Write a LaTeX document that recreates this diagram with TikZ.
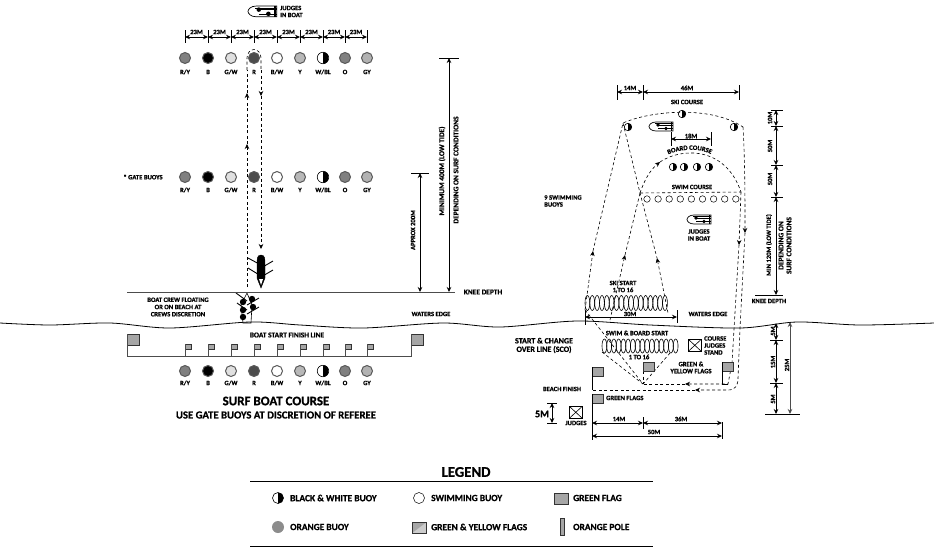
\documentclass[tikz,border=0pt]{standalone}
\usepackage{fontspec}
\setmainfont{Carlito}[BoldFeatures={FakeBold=0.8}]
\usetikzlibrary{arrows.meta,calc,decorations.text}
\newcommand{\smallfont}{\bfseries\fontsize{6.6}{7}\selectfont}
\newcommand{\widefont}{\bfseries\fontsize{7.4}{8}\selectfont}
\newcommand{\legendfont}{\bfseries\fontsize{9.4}{10}\selectfont}
\tikzset{
  lbl/.style={font=\smallfont, inner sep=0pt, align=center},
  lblr/.style={lbl, rotate=90},
  lblleft/.style={lbl, anchor=west, align=left},
  lgtext/.style={lblleft, font=\legendfont},
  buoy/.style={circle, draw=black!65, line width=1pt, minimum size=11pt, inner sep=0pt},
  halfbuoy/.style={circle, draw=black, fill=white, line width=0.6pt, inner sep=0pt,
    path picture={\fill[black] (path picture bounding box.north) rectangle (path picture bounding box.south east);}},
  swimbuoy/.style={circle, draw=black, fill=white, line width=0.5pt, minimum size=6.5pt, inner sep=0pt},
  flagbox/.style={rectangle, draw=black!80, fill=black!35, line width=0.8pt, inner sep=0pt, anchor=north west},
  xbox/.style={rectangle, draw=black, line width=0.6pt, inner sep=0pt, anchor=north west,
    path picture={\draw (path picture bounding box.north west) -- (path picture bounding box.south east)
      (path picture bounding box.north east) -- (path picture bounding box.south west);}},
  dim/.style={<->, line width=0.8pt},
  tick/.style={line width=0.7pt},
  route/.style={line width=0.6pt, dash pattern=on 3pt off 2.5pt},
  oar/.style={line width=0.9pt},
  judgeboat/.pic={
    \draw[line width=0.7pt, fill=white] (24,0) -- (7,0) .. controls (2,0) and (0,3) .. (0,4.5)
      .. controls (0,6) and (2,9) .. (7,9) -- (24,9) -- cycle;
    \draw[line width=0.6pt] (6,1.5) -- (24,1.5) (9,3) -- (24,3) (9,6.5) -- (24,6.5);
    \draw[line width=1.2pt] (22.5,0) -- (22.5,9);
    \fill (9,3) circle (1.9) (17,6.5) circle (1.9);
  }
}
\begin{document}
\begin{tikzpicture}[x=1pt, y=-1pt, >={Stealth[length=5pt,width=4.5pt]}]
\useasboundingbox (0,0) rectangle (934,547);

% judges boat, far buoys
\pic[scale=1.2] at (248,6) {judgeboat};
\node[lblleft] (judgesA) at (280,11.5) {JUDGES\\IN BOAT};

% spacing of the gates
\foreach \x/\n in {185/0,208/1,231/2,254/3,277/4,300/5,323/6,345/7,367/8}{
  \coordinate (gt\n) at (\x,30);
  \coordinate (gb\n) at (\x,43);
  \coordinate (gm\n) at (\x,37);
  \draw[tick] (gt\n) -- (gb\n);
}
\foreach \a/\b in {0/1,1/2,2/3,3/4,4/5,5/6,6/7,7/8}{
  \draw[dim] (gm\a) -- (gm\b);
  \node[lbl] at ($(gm\a)!0.5!(gm\b)+(0,-5)$) {23M};
}

% three rows of gate buoys
\foreach \y/\r/\yy in {58/a/72,177/b/190,371/c/383}{
  \foreach \x/\lab/\col in {185/R\slash Y/black!50,208/B/black,231/G\slash W/black!12,254/R/black!70,277/B\slash W/white,300/Y/black!28,345/O/black!50,367/GY/black!30}{
    \node[buoy, fill=\col] (buoy\r\x) at (\x,\y) {};
    \node[lbl] at (\x,\yy) {\lab};
  }
  \node[halfbuoy, minimum size=11.5pt] (buoy\r323) at (323,\y) {};
  \node[lbl] at (323,\yy) {W\slash BL};
}
\node[lbl] (gatebuoys) at (143,177) {* GATE BUOYS};

% boat route
\coordinate (upS) at (247,287);
\coordinate (upA) at (247,144);
\coordinate (upB) at (247,93);
\coordinate (upE) at (247,70);
\coordinate (dnS) at (261,70);
\coordinate (dnA) at (261,96);
\coordinate (dnE) at (261,249);
\draw[route, ->] (upS) -- (upA);
\draw[route, ->] (upA) -- (upB);
\draw[route] (upB) -- (upE);
\draw[route, ->] (dnS) -- (dnA);
\draw[route, ->] (dnA) -- (dnE);
\draw[route] (upE) -- (247,58) arc (180:360:7 and 8.5) -- (dnS);

% boat on its way in
\draw[oar] (248,258) -- (261,265) (273,261) -- (261,268) (248,268) -- (261,276) (273,270) -- (261,277);
\draw[fill=black] (261,255) .. controls (257,255) and (257,259) .. (257,264) -- (257,278) -- (261,288) -- (265,278) -- (265,264) .. controls (265,259) and (265,255) .. (261,255);
\fill[white] (259,279) -- (263,279) -- (261,285) -- cycle;

% crew floating
\draw[line width=0.6pt, fill=white] (247,293) -- (252,305) -- (251,323) -- (243,323) -- (241,305) -- cycle;
\draw[oar] (236,293) -- (247,301) (259,298) -- (247,305) (237,303) -- (247,310) (259,307) -- (247,314);
\fill (252,299) circle (3.2) (243,302) circle (3.2) (253,307) circle (3.2) (243,310) circle (3.2) (243,317) circle (3.2);

% shore and knee depth
\coordinate (kneeL) at (127,292);
\coordinate (kneeR) at (455,292);
\draw[line width=1pt, black!70] (kneeL) -- (kneeR);
\node[lbl, font=\widefont] (knee) at (483,292) {KNEE DEPTH};
\draw[line width=0.8pt] plot[smooth] coordinates {(0,323) (50,325) (110,323) (170,328) (250,322) (300,325) (363,328) (443,323) (500,327) (577,321) (650,325) (740,328) (797,322) (860,325) (934,323)};
\node[lbl] (crew) at (178,307) {BOAT CREW FLOATING\\[0.2pt]OR ON BEACH AT\\[0.2pt]CREWS DISCRETION};
\node[lbl] (edgeA) at (431,314) {WATERS EDGE};
\node[lbl, font=\widefont] (startline) at (287,335) {BOAT START FINISH LINE};

% start line and flags
\node[flagbox, minimum width=12pt, minimum height=11pt] (flagL) at (127,334) {};
\node[flagbox, minimum width=12pt, minimum height=11pt] (flagR) at (411,334) {};
\coordinate (lineL) at (127,356);
\coordinate (lineR) at (411,356);
\draw[line width=1pt, black!70] (flagL.north west) -- (lineL) -- (lineR) -- (flagR.north west);
\foreach \x in {185,208,231,254,277,300,323,345,367}{
  \node[flagbox, line width=0.6pt, minimum width=5.5pt, minimum height=5pt] (fl\x) at (\x,344) {};
  \draw[line width=0.6pt, black!70] (fl\x.north west) -- (\x,356);
}

% depth marks
\coordinate (dA) at (420,173);
\coordinate (dB) at (420,292);
\coordinate (dC) at (449,58);
\coordinate (dD) at (449,292);
\draw[tick] (411,173) -- (429,173) (439,58) -- (459,58);
\draw[dim] (dA) -- (dB);
\draw[dim] (dC) -- (dD);
\node[lblr] (approx) at (413,230) {APPROX 200M};
\node[lblr, font=\widefont] (minA) at (442,171) {MINIMUM 400M (LOW TIDE)};
\node[lblr, font=\widefont] (minB) at (456,170) {DEPENDING ON SURF CONDITIONS};

\node[font=\bfseries\fontsize{13}{14}\selectfont, inner sep=0pt] (title) at (276,401) {SURF BOAT COURSE};
\node[font=\bfseries\fontsize{10.7}{12}\selectfont, inner sep=0pt] (subtitle) at (276,415) {USE GATE BUOYS AT DISCRETION OF REFEREE};

% ---- second course ----
\node[halfbuoy, minimum size=7.5pt] (skiA) at (628,127) {};
\node[halfbuoy, minimum size=7.5pt] (skiB) at (682,114) {};
\node[halfbuoy, minimum size=7.5pt] (skiC) at (734,127) {};
\node[lbl] (skicourse) at (687,102) {SKI COURSE};
\foreach \x in {673,684,697,709}{
  \node[halfbuoy, minimum size=7.5pt] (bd\x) at (\x,167) {};
}
\foreach \i in {0,...,8}{
  \node[swimbuoy] (sw\i) at ({647+\i*11.1},199) {};
}
\node[lblleft] (nine) at (544,201) {9 SWIMMING\\BUOYS};
\node[lbl] (swimcourse) at (692,187) {SWIM COURSE};
\pic at (649,122) {judgeboat};
\pic at (687,215) {judgeboat};
\node[lbl] (judgesB) at (699,235) {JUDGES\\IN BOAT};

% widths
\coordinate (wA) at (617,92);
\coordinate (wB) at (643,92);
\coordinate (wC) at (739,92);
\draw[tick] (617,85) -- (617,100) (643,85) -- (643,100) (739,85) -- (739,100);
\draw[dim] (wA) -- (wB);
\draw[dim] (wB) -- (wC);
\node[lbl] at (630,88) {14M};
\node[lbl] at (687,88) {46M};
\coordinate (wD) at (671,139);
\coordinate (wE) at (711,139);
\draw[tick] (671,132) -- (671,146) (711,132) -- (711,146);
\draw[dim] (wD) -- (wE);
\node[lbl] at (691,136) {18M};

% routes of the second course
\coordinate (pt) at (643,384);
\coordinate (skiL) at (585,310);
\coordinate (skiM) at (593,251);
\coordinate (skiTL) at (623,123);
\coordinate (skiTR) at (743,127);
\coordinate (skiD) at (745,233);
\coordinate (skiE) at (740,328);
\coordinate (fin) at (592,390);
\coordinate (finA) at (695,390);
\coordinate (bdS) at (610,320);
\coordinate (bdA) at (625,255);
\coordinate (bdB) at (640,193);
\coordinate (bdC) at (660,162);
\coordinate (bdR) at (741,192);
\coordinate (swD) at (739,245);
\coordinate (rtE) at (668,313);
\coordinate (rtA) at (657,258);
\coordinate (swA) at (685,384);
\draw[route, ->] (skiL) -- (skiM);
\draw[route] (skiM) -- (skiTL) .. controls (650,111) and (710,105) .. (skiTR);
\draw[route, ->] (skiTR) .. controls (745,160) and (745,200) .. (skiD);
\draw[route, ->] (skiD) -- (skiE) -- (738,378) .. controls (738,386) and (735,390) .. (728,390) -- (finA);
\draw[route] (finA) -- (fin);
\draw[route, ->] (bdS) -- (bdA);
\draw[route] (bdA) -- (bdB);
\draw[route, ->] (bdB) .. controls (644,181) and (650,170) .. (bdC);
\draw[route] (bdC) .. controls (680,148) and (725,145) .. (bdR);
\draw[route, ->] (bdR) -- (swD);
\draw[route, ->] (swD) -- (732,363) -- (728,384) -- (swA);
\draw[route] (swA) -- (pt);
\draw[route] (bdB) -- (bdR);
\draw[route] (skiTL) -- (bdB) -- (rtA);
\draw[route, <-] (rtA) -- (rtE);
\draw[route] (skiL) -- (pt);
\draw[route] (602,352) -- (pt);
\draw[route] (670,353) -- (pt);
\draw[route] (643,371) -- (pt);

% text on the board course
\path[decorate, decoration={text along path, text align=center, text={|\smallfont|BOARD COURSE}}]
  (662,158) .. controls (677,147) and (705,147) .. (717,158);

% start coils
\foreach \i in {0,...,16}{
  \draw[line width=0.6pt] ({587.4+\i*4.85},303) ellipse (2.4 and 7.5);
}
\foreach \i in {0,...,15}{
  \draw[line width=0.6pt] ({604.4+\i*4.75},346) ellipse (2.4 and 7);
}
\node[lbl] (skistart) at (623,286.5) {SKI START\\1 TO 16};
\coordinate (sA) at (585,317);
\coordinate (sB) at (677,317);
\draw[tick] (585,311) -- (585,325) (677,310) -- (677,323);
\draw[dim] (sA) -- (sB);
\node[lbl] at (630,314) {30M};
\node[lbl] (edgeB) at (708,314) {WATERS EDGE};
\node[lbl] (swimstart) at (637,333) {SWIM \& BOARD START};
\node[lbl] at (639,357) {1 TO 16};
\node[font=\bfseries\fontsize{8}{8.5}\selectfont, inner sep=0pt, align=center] (sco) at (544,345.5) {START \& CHANGE\\OVER LINE (SCO)};

% flags and stands
\node[xbox, minimum width=13pt, minimum height=12pt] (stand) at (688,339) {};
\node[lblleft] (standlbl) at (704,345.5) {COURSE\\JUDGES\\STAND};
\node[flagbox, minimum width=10.5pt, minimum height=8.5pt] (gyA) at (643,362) {};
\node[flagbox, minimum width=10.5pt, minimum height=8.5pt] (gyB) at (722,362) {};
\node[flagbox, minimum width=10.5pt, minimum height=8.5pt] (grA) at (592,367) {};
\node[flagbox, minimum width=10.5pt, minimum height=8.5pt] (grB) at (592,394) {};
\coordinate (poleB) at (722,384);
\coordinate (poleC) at (592,390);
\coordinate (poleD) at (592,440);
\draw[line width=0.7pt] (gyB.north west) -- (poleB) -- (728,384);
\draw[line width=0.7pt] (grA.north west) -- (poleC);
\draw[line width=0.7pt] (grB.north west) -- (poleD);
\node[lbl] (gylbl) at (691,367.5) {GREEN \&\\YELLOW FLAGS};
\node[lbl] (beach) at (562,389) {BEACH FINISH};
\node[lblleft] (grlbl) at (606,398) {GREEN FLAGS};

% measures at the right
\coordinate (mA) at (776,110);
\coordinate (mB) at (776,126);
\coordinate (mC) at (776,165);
\coordinate (mD) at (776,197);
\coordinate (mE) at (776,295);
\draw[tick] (771,110) -- (783,110) (771,126) -- (783,126) (771,165) -- (783,165) (771,197) -- (783,197) (755,295) -- (783,295);
\draw[dim] (mA) -- (mB);
\draw[dim] (mB) -- (mC);
\draw[dim] (mC) -- (mD);
\draw[dim] (mD) -- (mE);
\node[lblr] at (770,118) {10M};
\node[lblr] at (770,146) {50M};
\node[lblr] at (770,179) {50M};
\node[lblr] (minC) at (769,245) {MIN 120M (LOW TIDE)};
\node[lblr, font=\widefont] (minD) at (785,245.5) {DEPENDING ON\\SURF CONDITIONS};
\node[lbl] (kneeB) at (769,301) {KNEE DEPTH};

\coordinate (nA) at (776,323);
\coordinate (nB) at (776,340);
\coordinate (nC) at (776,383);
\coordinate (nD) at (776,414);
\coordinate (nE) at (790,322);
\coordinate (nF) at (790,414);
\draw[tick] (770,340) -- (783,340) (770,383) -- (783,383) (765,414) -- (800,414);
\draw[dim] (nA) -- (nB);
\draw[dim] (nB) -- (nC);
\draw[dim] (nC) -- (nD);
\draw[dim, black!70, line width=1pt] (nE) -- (nF);
\node[lblr] at (773,331) {5M};
\node[lblr] at (773,362) {15M};
\node[lblr] at (773,399) {5M};
\node[lblr] at (787,365) {25M};

% beach measures
\node[font=\bfseries\fontsize{10}{11}\selectfont, inner sep=0pt] (five) at (542,414) {5M};
\coordinate (hA) at (552,403);
\coordinate (hB) at (552,423);
\draw[tick] (547,403) -- (557,403) (547,423) -- (557,423);
\draw[dim] (hA) -- (hB);
\node[xbox, minimum width=13pt, minimum height=12pt] (judgebox) at (569,406) {};
\node[lbl] (judgesC) at (576,423) {JUDGES};
\coordinate (bA) at (592,423);
\coordinate (bB) at (643,423);
\coordinate (bC) at (722,423);
\coordinate (cA) at (592,436);
\coordinate (cB) at (722,436);
\draw[tick] (643,417) -- (643,429) (722,422) -- (722,439);
\draw[dim] (bA) -- (bB);
\draw[dim] (bB) -- (bC);
\draw[dim] (cA) -- (cB);
\node[lbl] at (619,419) {14M};
\node[lbl] at (681,419) {36M};
\node[lbl] at (654,432) {50M};

% ---- legend ----
\node[font=\bfseries\fontsize{14.8}{16}\selectfont, inner sep=0pt] (legend) at (466,472) {LEGEND};
\coordinate (lgA) at (250,481);
\coordinate (lgB) at (653,481);
\coordinate (lgC) at (250,546);
\coordinate (lgD) at (653,546);
\draw[line width=0.8pt] (lgA) -- (lgB);
\draw[line width=0.8pt] (lgC) -- (lgD);
\node[halfbuoy, minimum size=11pt] (lgHalf) at (278,498) {};
\node[lgtext] at (290,498) {BLACK \& WHITE BUOY};
\node[swimbuoy, minimum size=11pt] (lgSwim) at (419,498) {};
\node[lgtext] at (431,498) {SWIMMING BUOY};
\node[flagbox, minimum width=14pt, minimum height=11pt] (lgGreen) at (554,493) {};
\node[lgtext] at (573,498) {GREEN FLAG};
\node[circle, fill=black!45, minimum size=12pt, inner sep=0pt] (lgOrange) at (278,527) {};
\node[lgtext] at (290,527) {ORANGE BUOY};
\node[flagbox, minimum width=14pt, minimum height=10.5pt, path picture={\fill[black!20] (path picture bounding box.south west) -- (path picture bounding box.north east) -- (path picture bounding box.south east) -- cycle;}] (lgGY) at (412,522) {};
\node[lgtext] at (431,527) {GREEN \& YELLOW FLAGS};
\node[flagbox, minimum width=4pt, minimum height=17pt] (lgPole) at (560,518) {};
\node[lgtext] at (573,527) {ORANGE POLE};
\end{tikzpicture}
\end{document}
